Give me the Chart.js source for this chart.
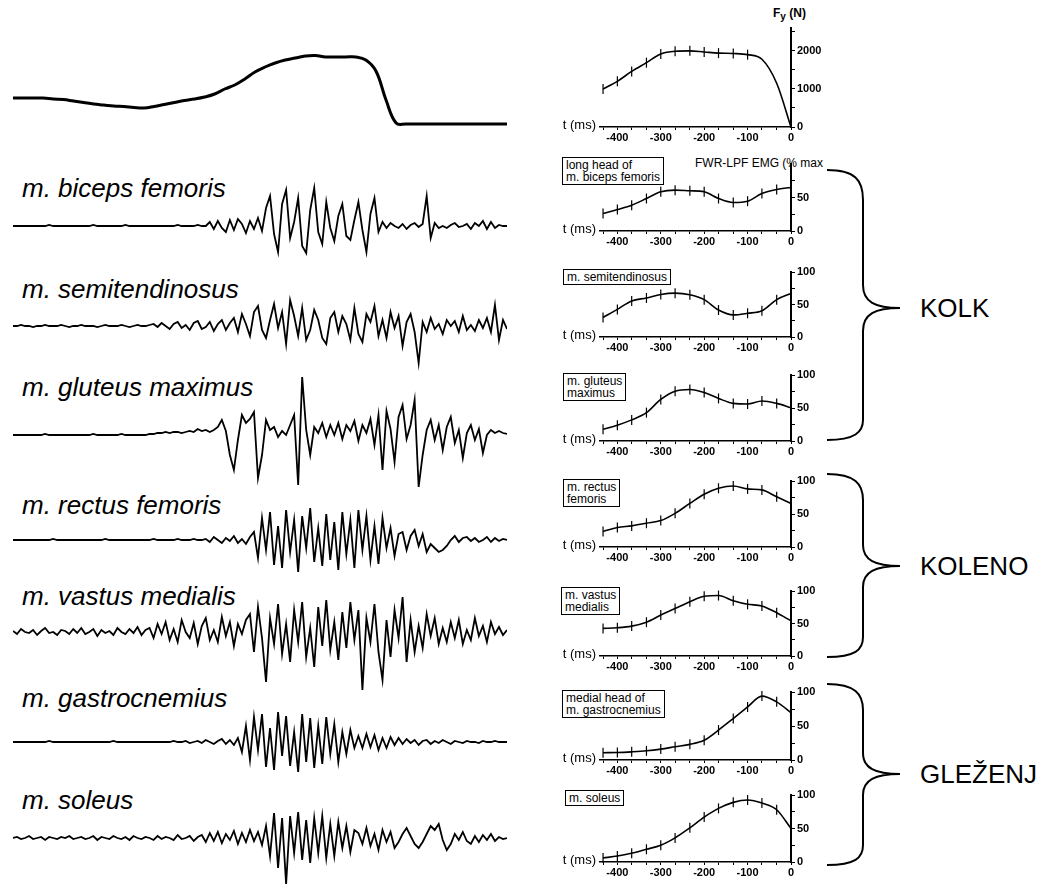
<!DOCTYPE html>
<html>
<head>
<meta charset="utf-8">
<script src="https://cdn.jsdelivr.net/npm/chart.js@4"></script>
<style>
body { margin: 0; background: #fff; }
#page { position: relative; width: 1043px; height: 884px; overflow: hidden; background: #fff; }
canvas { position: absolute; }
.name { position: absolute; left: 22px; font: italic 26px "Liberation Sans", Arial, sans-serif; line-height: 26px; color: #000; white-space: nowrap; }
.box { position: absolute; border: 1.5px solid #000; font: 12px "Liberation Sans", Arial, sans-serif; line-height: 12px; padding: 1px 3px; color: #000; white-space: nowrap; background: #fff; }
.small { position: absolute; font: 12px "Liberation Sans", Arial, sans-serif; color: #000; white-space: nowrap; }
.joint { position: absolute; left: 920px; font: 26px "Liberation Sans", Arial, sans-serif; line-height: 30px; color: #000; }
svg { position: absolute; left: 0; top: 0; }
</style>
</head>
<body>
<div id="page">
  <div class="name" style="top:175px">m. biceps femoris</div>
  <div class="name" style="top:276px">m. semitendinosus</div>
  <div class="name" style="top:374px">m. gluteus maximus</div>
  <div class="name" style="top:492px">m. rectus femoris</div>
  <div class="name" style="top:583px">m. vastus medialis</div>
  <div class="name" style="top:685px">m. gastrocnemius</div>
  <div class="name" style="top:787px">m. soleus</div>

  <div class="box" style="left:562px;top:157px">long head of<br>m. biceps femoris</div>
  <div class="box" style="left:563px;top:269px">m. semitendinosus</div>
  <div class="box" style="left:563px;top:373px">m. gluteus<br>maximus</div>
  <div class="box" style="left:563px;top:479px">m. rectus<br>femoris</div>
  <div class="box" style="left:561px;top:587px">m. vastus<br>medialis</div>
  <div class="box" style="left:562px;top:690px">medial head of<br>m. gastrocnemius</div>
  <div class="box" style="left:565px;top:790px">m. soleus</div>

  <div class="small" style="left:695px;top:156px">FWR-LPF EMG (% max</div>
  <div class="small" style="left:773px;top:6px;font-weight:bold">F<sub style="font-size:10px">y</sub> (N)</div>

  <div class="joint" style="top:293px">KOLK</div>
  <div class="joint" style="top:551px">KOLENO</div>
  <div class="joint" style="top:759px">GLEŽENJ</div>

  <svg width="1043" height="884">
    <g fill="none" stroke="#000" stroke-width="2">
      <path d="M 827 170 C 855 170 863 180 863 200 L 863 285 C 863 302 875 308 900 308 C 875 308 863 314 863 331 L 863 420 C 863 432 855 440 827 440"/>
      <path d="M 827 474 C 855 474 863 484 863 500 L 863 545 C 863 560 875 566 900 566 C 875 566 863 572 863 587 L 863 637 C 863 650 855 657 827 657"/>
      <path d="M 827 684 C 855 684 863 694 863 710 L 863 753 C 863 768 875 774 900 774 C 875 774 863 780 863 795 L 863 845 C 863 858 855 865 827 865"/>
    </g>
  </svg>
</div>

<script>
// raw traces (left), one value every ~4 px of record
let forceTrace = [27, 27, 27, 27, 26, 25.5, 24, 22.5, 21, 20, 19, 18.5, 17.5, 17, 18.5, 20.5, 22.5, 24.5, 26, 28,
    31, 36, 40, 46, 53, 58, 62, 65, 67, 69, 69.5, 68, 68, 68, 68, 65, 54, 25, 2, 1,
    1, 1, 1, 1, 1, 1, 1, 1, 1, 1]

let bicepsTrace = [0, 0, 0, 0, 0, 0, 0, 0, 0, 1, 0, 0, 0, 0, 0, 0, 0, 0, 0, 0, 1, 0, 0, 0, 0, 0, 0, 0, 1, 0, 0, 0, 0, 0, 0, 0, 0, 0, 0, 0, 0, 1, 0, 0, 0, 0, 1, 0,
    0, 4, -3, 5, -2, -6, 6, -4, 7, 2, -7, 5, -3, 8, -5,
    18, 30, -8, -26, 22, 36, -12, 4, 28, -20, -27, 16, 38, -6, -18, 24, -2, -15, 10, 22, -10, -14, 6, 24, -4, -26, 12, 28,
    -6, 4, -2, 3, 0, -2, 2, -3, 1, 3, -1, 2,
    30, -12, 3, -2,
    0, -2, 1, 3, -1, 0, 2, -3, 3, 0, 5, -3, 4, -2, 1, 0, 0]

let semiTrace = [0, 0, 1, 0, 0, -1, 0, 0, 1, 0, 0, 0, 1, 0, -1, 0, 0, 1, 0, 0, 0, -1, 0, 1, 0, 0, 0, 1, 0, -1, 0, 1, 0, 0, 1,
    2, -1, 3, 0, -3, 2, 4, -2, 1, -4, 3, 5, -3, -1, 4, -5, 2, 6, -4, 3,
    8, -6, 12, 2, -10, 14, 20, -4, -12, 6, 22, -2, 14, -18, 26, 10, -10, 18, -14, -4, 16, 6, -12, -18, 8, 14, -6, 10, 2, -14,
    18, -8, -16, 12, 4, 20, -10, 6, -12, 14, -2, 10, -20, 4, 12, -6, -37,
    4, -6, 8, -3, 2, -8, 6, 0, 5, -6, 10, -4, 1, -5, 6, -2, 8, -6, 21, -14, 6, -3]

let gluteusTrace = [0, 0, 0, 0, 0, 0, 0, 0, 1, 0, 0, 0, 0, 0, 0, 0, 0, 0, 0, 0, 1, 0, 0, 0, 0, 0, 0, 1, 0, 0, 0, 0, 0, 0, 1, 1, 2,
    2, 3, 2, 3, 3, 2, 3, 4, 3, 6, 4, 5, 3, 5,
    8, 15, 4, -20, -35, -5, 20, 12, 16, 23, -43, -20, 15, 5, 8, -2, 4, 0, 10, 20, -50, 58, 5, -20, 8, 2, 12, -2, 10, 0,
    12, -4, 10, 4, 14, -6, 10, 2, 16, -10, 20, -35, 24, 6, -27, 18, 30, -4, 10, 35, -52, -20, 5, 15, -5, 10, -15, 8, 18, -8,
    5, -23, 2, 10, -5, 6, -18, 0, 5, 2, 4, 2, 1]

let rectusTrace = [0, 0, 0, 0, 0, 0, 0, 0, 0, 0, 1, 0, 0, 0, 0, 0, 0, 0, 0, 0, 0, 0, 0, 1, 0, 0, 0, 0, 0, 0, 0, 0, 0, 0, 0, 1, 0, 0, 0, 0, 0, 1, 0, 0, 0, 1, 0, 0,
    1, -2, 3, 0, -3, 2, -1, 4, -3, 1, -4, 3,
    8, -18, 22, -10, 28, -25, 14, -28, 30, -12, 20, -32, 24, -8, 32, -22, 12, -26, 26, -20, 18, -30, 28, -14, 20, -28, 30, -10, 24, -20, 14, -24, 22, -8, 12, -16, 6,
    8, -10, 4, 10, -6, 6, -12, -4, -8, -12, -10, -6, 0, 4, -2, 2, 3, -1, 2, -2, 0, 3, -2, 2, -1, 1, 0]

let vastusTrace = [1, -2, 3, 0, -1, 2, -3, 1, 4, -1, 0, -3, 2, 1, -2, 3, -1, 4, -2, 0, 3, -4, 2, -1, 1, -3, 4, 0, -2, 3, -1, 5, -3, 2,
    4, -6, 8, -2, 10, -8, 3, -10, 12, 0, -6, 9, -12, 6, 14, -8, 2, -10, 15, -4, 10, -14, 8, -2, 12,
    18, -20, 25, -6, -50, 14, -12, 28, -22, 8, -30, 22, -10, 30, -25, 4, -35, 25, -14, 32, -18, 10, -28, 20, -16, 30, -8, 22, -58, 14,
    -10, 28, -20, -48, 12, -25, 22, -6, 35, -30, 12, -20, 6, -16, 18, -4, 14, -12, 4, -10,
    10, -6, 12, -12, 2, -8, 14, -4, 6, -10, 10, -2, 5, -3, 2]

let gastroTrace = [0, 0, 0, 0, 0, 0, 0, 0, 0, 1, 0, 0, 0, 0, 0, 0, 0, 0, 0, 0, 0, 0, 0, 0, 0, 1, 0, 0, 0, 0, 0, 0, 0, 0, 0, 0, 0, 0, 0, 0, 1, 0, 0, 1, -1, 0, 1, -1, 2, 0, -2, 1, 3, -2, 2, -3,
    4, -10, 16, -18, 25, -8, 28, -25, 14, -28, 30, -14, 26, -24, 10, -30, 28, -20, 24, -26, 16, -22, 25, -12, 18, -20, 10, -12, 12, -6, 6,
    -6, 8, -5, 7, -8, 4, -6, 5, -3, 4,
    -2, 3, -1, 2, -3, 1, 2, -2, 1, -1, 2, 0, -2, 1, 0, -1, 1, 0, 0, -1, 1, 0, 0, 1, 0, 0, 0]

let soleusTrace = [0, 1, -1, 0, 2, -1, 0, 1, -2, 1, 0, -1, 1, 0, 2, -1, 0, 1, -1, 0, 2, -2, 1, 0, -1, 2, 0, -1, 1, -2, 2, 0, -1, 1, 0, -2, 2, -1, 1, 0, -2, 3, -1, 0, 2, -3, 1,
    3, -4, 5, -3, 6, -5, 4, -2, 7, -6, 5, -4, 8, -3, 6, -7,
    12, -18, 25, -30, 20, -46, 22, -15, 26, -22, 18, -25, 20, -15, 22, -20, 14, -18, 16, -10, 12, -14, 8,
    5, -6, 10, -8, 4, -12, 8, -4, 6, -10, -4, 4, 10, 2, -6, -10, -4, 4, 12, 8, 14, -2, -12, -6, 4, -2, 6, -3, -6, 2, -4, 3, -2, 4, -3, 1, -1, 0]

// averaged curves (right), t in ms before take-off
let times = [-433, -400, -367, -333, -300, -267, -233, -200, -167, -133, -100, -67, -33, 0]
let xTickLabels = [-400, -300, -200, -100, 0]
let forceMean = [1000, 1200, 1460, 1690, 1920, 1990, 2000, 1970, 1940, 1930, 1900, 1780, 1150, 0]
let bicepsMean = [26, 32, 38.5, 48.5, 58.5, 61, 60, 58.5, 48.5, 42.5, 44.5, 56, 62, 65]
let semiMean = [30, 42.5, 55.5, 60, 65.5, 67.5, 65, 57.5, 41.5, 34, 36.5, 40.5, 57.5, 67]
let gluteusMean = [17.7, 24, 32, 43, 63, 75.5, 78, 73.5, 64.5, 57, 56, 60.5, 57, 50.5]
let rectusMean = [23.5, 29.5, 32, 36, 40, 51, 66, 80, 89, 92.5, 88, 86.5, 76, 66]
let vastusMean = [42.5, 43.5, 46, 52, 63, 73, 83.5, 92, 93, 85, 79.5, 77, 66.5, 54]
let gastroMean = [10.7, 11, 12, 13.5, 16, 19.5, 23, 29, 44, 61, 78, 94, 85.5, 69.5]
let soleusMean = [6, 9, 13, 19, 25, 36, 51, 67, 80, 89, 92.5, 88, 78, 50]

let page = document.getElementById("page")

function makeCanvas(left, top, w, h) {
    let c = document.createElement("canvas")
    c.width = w
    c.height = h
    c.style.left = left + "px"
    c.style.top = top + "px"
    c.style.width = w + "px"
    c.style.height = h + "px"
    page.appendChild(c)
    return c
}

function trace(values, top, height, lo, hi, width) {
    let c = makeCanvas(13, top, 494, height)
    new Chart(c, {
        type: "line",
        data: {
            datasets: [{
                data: values.map((v, i) => ({ x: i, y: v })),
                borderColor: "#000",
                borderWidth: width,
                pointRadius: 0,
                tension: width > 2 ? 0.4 : 0,
                clip: false
            }]
        },
        options: {
            responsive: false,
            animation: false,
            devicePixelRatio: 1,
            events: [],
            plugins: { legend: { display: false }, tooltip: { enabled: false } },
            scales: {
                x: { type: "linear", display: false, min: 0, max: values.length - 1 },
                y: { display: false, min: lo, max: hi }
            }
        }
    })
}

trace(forceTrace, 25, 110, -10, 100, 3)
trace(bicepsTrace, 156, 140, -70, 70, 1.8)
trace(semiTrace, 256, 140, -70, 70, 1.8)
trace(gluteusTrace, 365, 140, -70, 70, 1.8)
trace(rectusTrace, 470, 140, -70, 70, 1.8)
trace(vastusTrace, 562, 140, -70, 70, 1.8)
trace(gastroTrace, 672, 140, -70, 70, 1.8)
trace(soleusTrace, 768, 140, -70, 70, 1.8)

let tickFont = { family: "'Liberation Sans', Arial, sans-serif", size: 11, weight: "bold" }

let tLabel = {
    id: "tLabel",
    afterDraw(chart) {
        let ctx = chart.ctx
        let y0 = chart.scales.y.getPixelForValue(0)
        ctx.save()
        ctx.fillStyle = "#000"
        ctx.font = "13px 'Liberation Sans', Arial, sans-serif"
        ctx.textAlign = "right"
        ctx.textBaseline = "middle"
        ctx.fillText("t (ms)", chart.chartArea.left - 4, y0 - 2)
        ctx.restore()
    }
}

function panel(values, y100, y0, max, yTicks, yLabels, bars) {
    let padTop = 10
    let h = y0 - y100
    let c = makeCanvas(555, y100 - padTop, 276, padTop + h + 22)
    new Chart(c, {
        type: "line",
        data: {
            datasets: [{
                data: times.map((t, i) => ({ x: t, y: values[i] })),
                borderColor: "#000",
                borderWidth: 1.6,
                cubicInterpolationMode: "monotone",
                pointStyle: "line",
                rotation: 90,
                pointRadius: ctx => ctx.dataIndex < bars ? 5 : 0,
                pointBorderColor: "#000",
                pointBorderWidth: 1.2,
                clip: false
            }]
        },
        options: {
            responsive: false,
            animation: false,
            devicePixelRatio: 1,
            events: [],
            layout: { padding: { left: 45, top: padTop, right: 0, bottom: 0 } },
            plugins: { legend: { display: false }, tooltip: { enabled: false } },
            scales: {
                x: {
                    type: "linear", min: -440, max: 0,
                    afterBuildTicks: s => { s.ticks = times.map(v => ({ value: v })) },
                    afterFit: s => { s.height = 22 },
                    grid: { drawOnChartArea: false, tickLength: 3, color: "#000" },
                    border: { color: "#000", width: 1.5 },
                    ticks: {
                        autoSkip: false, maxRotation: 0, padding: 1, color: "#000", font: tickFont,
                        callback: v => xTickLabels.includes(v) ? String(v) : ""
                    }
                },
                y: {
                    position: "right", min: 0, max: max,
                    afterBuildTicks: s => { s.ticks = yTicks.map(v => ({ value: v })) },
                    afterFit: s => { s.width = 40 },
                    grid: { drawOnChartArea: false, tickLength: 4, color: "#000" },
                    border: { color: "#000", width: 2 },
                    ticks: {
                        padding: 2, color: "#000", font: tickFont,
                        callback: v => yLabels.includes(v) ? String(v) : ""
                    }
                }
            }
        },
        plugins: [tLabel]
    })
}

panel(forceMean, 28, 127, 2600, [0, 500, 1000, 1500, 2000, 2500], [0, 1000, 2000], 11)
panel(bicepsMean, 164, 231, 100, [0, 25, 50, 75], [0, 50], 13)
panel(semiMean, 272, 337, 100, [0, 25, 50, 75, 100], [0, 50, 100], 13)
panel(gluteusMean, 375, 441, 100, [0, 25, 50, 75, 100], [0, 50, 100], 13)
panel(rectusMean, 481, 547, 100, [0, 25, 50, 75, 100], [0, 50, 100], 13)
panel(vastusMean, 591, 656, 100, [0, 25, 50, 75, 100], [0, 50, 100], 13)
panel(gastroMean, 692, 760, 100, [0, 25, 50, 75, 100], [0, 50, 100], 13)
panel(soleusMean, 795, 862, 100, [0, 25, 50, 75, 100], [0, 50, 100], 13)
</script>
</body>
</html>
